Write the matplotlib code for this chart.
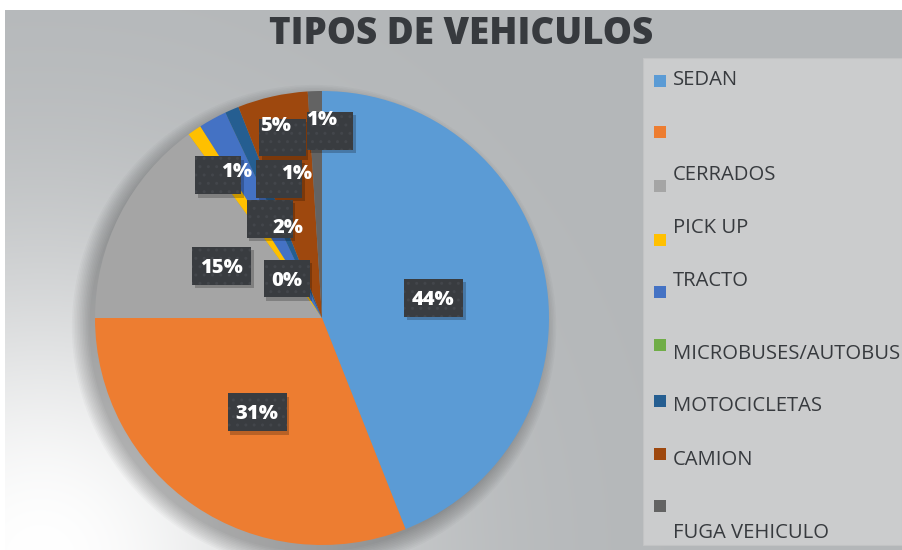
import numpy as np
import matplotlib
matplotlib.use("Agg")
import matplotlib.pyplot as plt
from matplotlib.patches import Rectangle, Circle

# data
categories = ["SEDAN", "", "CERRADOS", "PICK UP", "TRACTO",
              "MICROBUSES/AUTOBUS", "MOTOCICLETAS", "CAMION", "FUGA VEHICULO"]
percent = [44, 31, 15, 1, 2, 0, 1, 5, 1]
colors = ["#5B9BD5", "#ED7D31", "#A5A5A5", "#FFC000", "#4472C4",
          "#70AD47", "#255E91", "#9E480E", "#636363"]

# label text centres and box centres (pie units, radius = 1)
text_pos = [(0.489, 0.079), (-0.286, -0.423), (-0.441, 0.220), (-0.374, 0.643),
            (-0.150, 0.396), (-0.154, 0.163), (-0.110, 0.634), (-0.203, 0.846),
            (0.000, 0.872)]
box_pos = [(0.491, 0.088), (-0.286, -0.416), (-0.443, 0.229), (-0.458, 0.628),
           (-0.231, 0.438), (-0.156, 0.174), (-0.189, 0.614), (-0.174, 0.795),
           (0.035, 0.824)]

# legend rows: marker y and text y in pixels from top
leg_marker_y = [81, 132, 186, 240, 292, 345, 401, 454, 506]
leg_text_y = [80, 132, 175, 228, 281, 354, 406, 460, 533]

W, H = 902, 550
txt_color = "#373a3e"
font = ["Open Sans", "DejaVu Sans"]

fig = plt.figure(figsize=(W / 100, H / 100), dpi=100)
fig.patch.set_facecolor("white")

# --------------------------
# background with soft light patch at the lower left
# --------------------------
bg = fig.add_axes([5 / W, 0, 1 - 5 / W, 540 / H])
bg.set_axis_off()
yy, xx = np.mgrid[10:550, 5:902]
d = np.hypot(xx - 40, yy - 560)
wmix = np.exp(-(d / 300.0) ** 2)
gray = np.array([180, 183, 185]) / 255.0
img = gray[None, None, :] * (1 - wmix[..., None]) + 1.0 * wmix[..., None]
bg.imshow(img, aspect="auto", extent=[0, 1, 0, 1], origin="upper")
bg.set_xlim(0, 1)
bg.set_ylim(0, 1)

# title
fig.text(461 / W, 1 - 35 / H, "TIPOS DE VEHICULOS", ha="center", va="center",
         fontsize=26.5, fontweight="heavy", color=txt_color, family=font)

# legend panel
fig.patches.append(Rectangle((643 / W, 5 / H), 259 / W, 487 / H,
                             transform=fig.transFigure, facecolor="#cbcccd",
                             edgecolor="#c2c3c4", linewidth=0.8, zorder=1))
for i, name in enumerate(categories):
    fig.patches.append(Rectangle((654 / W, 1 - (leg_marker_y[i] + 6) / H), 12 / W, 12 / H,
                                 transform=fig.transFigure, facecolor=colors[i],
                                 edgecolor="none", zorder=2))
    if name:
        fig.text(673 / W, 1 - leg_text_y[i] / H, name, ha="left", va="center",
                 fontsize=14.6, color=txt_color, family=font, zorder=3)

# --------------------------
# pie
# --------------------------
ax = fig.add_axes([(322 - 227) / W, 5 / H, 454 / W, 454 / H])
ax.set_axis_off()

# soft shadow under the pie (towards lower left)
for k in range(12):
    ax.add_patch(Circle((-0.035, -0.04), 0.99 + k * 0.007, facecolor="black",
                        alpha=0.022, edgecolor="none", clip_on=False, zorder=0))

ax.pie(percent, colors=colors, startangle=90, counterclock=False, radius=1,
       wedgeprops=dict(linewidth=0), normalize=True)

plt.rcParams["hatch.linewidth"] = 1.0
for i, p in enumerate(percent):
    lab = f"{p}%"
    bw = 0.26 if len(lab) == 3 else 0.203
    bh = 0.167
    bx, by = box_pos[i]
    ax.add_patch(Rectangle((bx - bw / 2 + 0.012, by - bh / 2 - 0.014), bw, bh,
                           facecolor="black", alpha=0.22, edgecolor="none",
                           clip_on=False, zorder=4))
    ax.add_patch(Rectangle((bx - bw / 2, by - bh / 2), bw, bh,
                           facecolor="#393c40", edgecolor="#43464b", hatch="..",
                           linewidth=0, clip_on=False, zorder=5))
    tx, ty = text_pos[i]
    ax.text(tx, ty, lab, ha="center", va="center", fontsize=14.5, fontweight="heavy",
            color="white", family=font, zorder=6)

ax.set_xlim(-1, 1)
ax.set_ylim(-1, 1)

fig.savefig("out.png", dpi=100)
